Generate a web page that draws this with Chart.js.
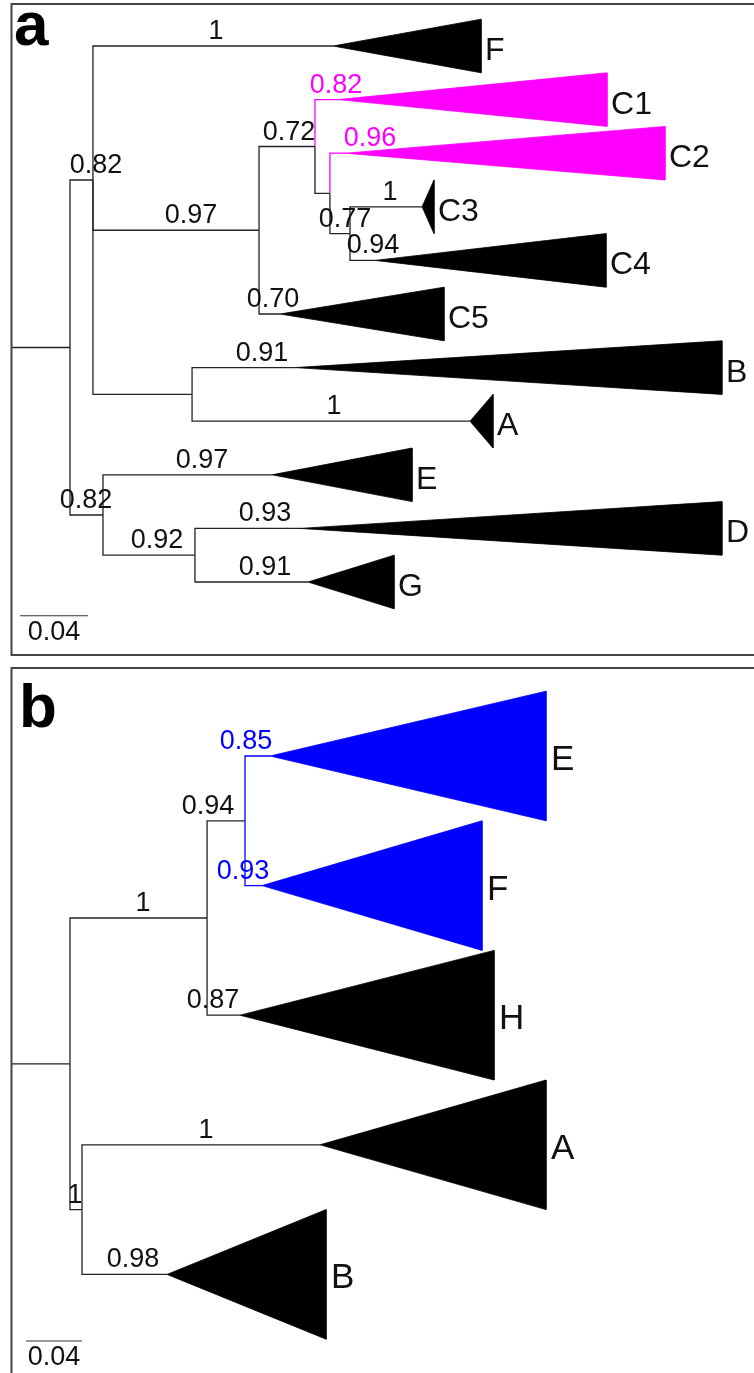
<!DOCTYPE html>
<html>
<head>
<meta charset="utf-8">
<script src="https://cdn.jsdelivr.net/npm/chart.js@4.4.1/dist/chart.umd.min.js"></script>
<style>
  body { margin: 0; background: #fff; }
  .panel { position: absolute; left: 0; width: 754px; }
  #wrapA { top: 0; height: 662px; }
  #wrapB { top: 662px; height: 711px; }
</style>
</head>
<body>
<div class="panel" id="wrapA"><canvas id="treeA" width="754" height="662"></canvas></div>
<div class="panel" id="wrapB"><canvas id="treeB" width="754" height="711"></canvas></div>
<script>
// ---- panel a : collapsed clades (row = order from top), x = subst./site from root
const cladesA = ['F', 'C1', 'C2', 'C3', 'C4', 'C5', 'B', 'A', 'E', 'D', 'G'];
const cladeApexA = [0.1547, 0.1576, 0.1618, 0.2071, 0.1794, 0.1235, 0.1324, 0.2353, 0.1188, 0.1353, 0.1400];
const cladeTipA = [0.2418, 0.3159, 0.3500, 0.2141, 0.3153, 0.2200, 0.3835, 0.2488, 0.2012, 0.3835, 0.1906];
const cladeSupportA = ['1', '0.82', '0.96', '1', '0.94', '0.70', '0.91', '1', '0.97', '0.93', '0.91'];
const cladeParentA = ['n1', 'n3', 'n4', 'n5', 'n5', 'n2', 'n8', 'n8', 'n6', 'n7', 'n7'];
// internal nodes
const nodeIdsA = ['root', 'n1', 'n2', 'n3', 'n4', 'n5', 'n8', 'n6', 'n7'];
const nodeParentA = [null, 'root', 'n1', 'n2', 'n3', 'n4', 'n1', 'root', 'n6'];
const nodeXA = [0, 0.0135, 0.1112, 0.1441, 0.1529, 0.1647, 0.0718, 0.0194, 0.0735];
const nodeRowA = [5.625, 2.5, 3.4375, 1.875, 2.75, 3.5, 6.5, 8.75, 9.5];
const nodeSupportA = ['', '0.82', '0.97', '0.72', '', '0.77', '', '0.82', '0.92'];
const highlightA = ['C1', 'C2'];

// ---- panel b
const cladesB = ['E', 'F', 'H', 'A', 'B'];
const cladeApexB = [0.1429, 0.1371, 0.1214, 0.1786, 0.0693];
const cladeTipB = [0.3400, 0.2943, 0.3029, 0.3400, 0.1829];
const cladeSupportB = ['0.85', '0.93', '0.87', '1', '0.98'];
const cladeParentB = ['m2', 'm2', 'm1', 'm3', 'm3'];
const nodeIdsB = ['root', 'm1', 'm2', 'm3'];
const nodeParentB = [null, 'root', 'm1', 'root'];
const nodeXB = [0, 0.0979, 0.125, 0.00857];
const nodeRowB = [2.375, 1.25, 0.5, 3.5];
const nodeSupportB = ['', '1', '0.94', '1'];
const highlightB = ['E', 'F'];

const scaleBarLen = 0.04;

// label placement (x centre of support values, in tree units)
const supportPosA = {
  F: 0.0859, C1: 0.1565, C2: 0.1765, C3: 0.1882, C4: 0.1782, C5: 0.1194,
  B: 0.1129, A: 0.1553, E: 0.0776, D: 0.1147, G: 0.1147,
  n1: 0.0153, n2: 0.0712, n3: 0.1288, n5: 0.1618, n6: 0.0094, n7: 0.0512
};
const supportPosB = {
  E: 0.1257, F: 0.1236, H: 0.1021, A: 0.0971, B: 0.045,
  m1: 0.0521, m2: 0.0986, m3: 0.0036
};

const panelA = {
  canvas: 'treeA', letter: 'a', hiColor: '#ff00ff',
  clades: cladesA, apex: cladeApexA, tip: cladeTipA, support: cladeSupportA, cladeParent: cladeParentA,
  ids: nodeIdsA, parent: nodeParentA, nx: nodeXA, nrow: nodeRowA, nsupport: nodeSupportA,
  highlight: highlightA, labelPos: supportPosA,
  xMin: -70 / 1700, xMax: 684 / 1700, yMin: -46 / 53.6, yMax: 616 / 53.6,
  rootStem: -0.0341, barX: -0.0294, barRow: 10.63,
  frame: { left: 11.5, top: 4, bottom: 655 }, letterPos: [14, 45],
  cladeFont: 32, cladeDx: 4
};
const panelB = {
  canvas: 'treeB', letter: 'b', hiColor: '#0000ff',
  clades: cladesB, apex: cladeApexB, tip: cladeTipB, support: cladeSupportB, cladeParent: cladeParentB,
  ids: nodeIdsB, parent: nodeParentB, nx: nodeXB, nrow: nodeRowB, nsupport: nodeSupportB,
  highlight: highlightB, labelPos: supportPosB,
  xMin: -70 / 1400, xMax: 684 / 1400, yMin: -94 / 129.6, yMax: 617 / 129.6,
  rootStem: -0.0414, barX: -0.0314, barRow: 4.514,
  frame: { left: 11.5, top: 6, bottom: null }, letterPos: [19, 65],
  cladeFont: 35, cladeDx: 5
};

const lineColor = '#222';

function seg(points, color, width) {
  return {
    data: points, showLine: true, borderColor: color, borderWidth: width,
    pointRadius: 0, pointHoverRadius: 0, fill: false
  };
}

function buildDatasets(p) {
  const ds = [];
  const nodeXY = id => {
    const i = p.ids.indexOf(id);
    return { x: p.nx[i], y: p.nrow[i] };
  };
  // root stem
  const r = nodeXY('root');
  ds.push(seg([{ x: p.rootStem, y: r.y }, { x: r.x, y: r.y }], lineColor, 1.3));
  // internal branches (elbow per child)
  p.ids.forEach((id, i) => {
    if (!p.parent[i]) return;
    const par = nodeXY(p.parent[i]);
    ds.push(seg([{ x: par.x, y: par.y }, { x: par.x, y: p.nrow[i] }, { x: p.nx[i], y: p.nrow[i] }], lineColor, 1.3));
  });
  // clade branches + triangles
  p.clades.forEach((name, row) => {
    const col = p.highlight.includes(name) ? p.hiColor : lineColor;
    const fillCol = p.highlight.includes(name) ? p.hiColor : '#000';
    const par = nodeXY(p.cladeParent[row]);
    ds.push(seg([{ x: par.x, y: par.y }, { x: par.x, y: row }, { x: p.apex[row], y: row }], col, 1.3));
    ds.push({
      data: [
        { x: p.apex[row], y: row },
        { x: p.tip[row], y: row - 0.5 },
        { x: p.tip[row], y: row + 0.5 },
        { x: p.apex[row], y: row }
      ],
      showLine: true, fill: 'shape', backgroundColor: fillCol, borderColor: fillCol,
      borderWidth: 0.8, pointRadius: 0, pointHoverRadius: 0
    });
  });
  // scale bar
  ds.push(seg([{ x: p.barX, y: p.barRow }, { x: p.barX + scaleBarLen, y: p.barRow }], '#333', 1.2));
  return ds;
}

function textPlugin(p) {
  return {
    id: 'treeText',
    afterDatasetsDraw(chart) {
      const { ctx, scales: { x, y } } = chart;
      ctx.save();
      // frame
      ctx.strokeStyle = '#444';
      ctx.lineWidth = 2;
      ctx.beginPath();
      ctx.moveTo(chart.width + 5, p.frame.top);
      ctx.lineTo(p.frame.left, p.frame.top);
      if (p.frame.bottom !== null) {
        ctx.lineTo(p.frame.left, p.frame.bottom);
        ctx.lineTo(chart.width + 5, p.frame.bottom);
      } else {
        ctx.lineTo(p.frame.left, chart.height + 5);
      }
      ctx.stroke();

      // panel letter
      ctx.fillStyle = '#000';
      ctx.font = 'bold 62px "Liberation Sans", Arial, sans-serif';
      ctx.textAlign = 'left';
      ctx.textBaseline = 'alphabetic';
      ctx.fillText(p.letter, p.letterPos[0], p.letterPos[1]);

      // support values
      ctx.font = '27px "Liberation Sans", Arial, sans-serif';
      ctx.textAlign = 'center';
      p.clades.forEach((name, row) => {
        ctx.fillStyle = p.highlight.includes(name) ? p.hiColor : '#111';
        ctx.fillText(p.support[row], x.getPixelForValue(p.labelPos[name]), y.getPixelForValue(row) - 7);
      });
      ctx.fillStyle = '#111';
      p.ids.forEach((id, i) => {
        if (!p.nsupport[i]) return;
        ctx.fillText(p.nsupport[i], x.getPixelForValue(p.labelPos[id]), y.getPixelForValue(p.nrow[i]) - 7);
      });

      // clade names
      ctx.font = p.cladeFont + 'px "Liberation Sans", Arial, sans-serif';
      ctx.textAlign = 'left';
      ctx.fillStyle = '#111';
      p.clades.forEach((name, row) => {
        ctx.fillText(name, x.getPixelForValue(p.tip[row]) + p.cladeDx, y.getPixelForValue(row) + 14);
      });

      // scale bar label
      ctx.font = '27px "Liberation Sans", Arial, sans-serif';
      ctx.textAlign = 'center';
      ctx.fillText(String(scaleBarLen), x.getPixelForValue(p.barX + scaleBarLen / 2), y.getPixelForValue(p.barRow) + 24);
      ctx.restore();
    }
  };
}

function drawTree(p) {
  const ctx = document.getElementById(p.canvas).getContext('2d');
  return new Chart(ctx, {
    type: 'scatter',
    data: { datasets: buildDatasets(p) },
    options: {
      responsive: false,
      animation: false,
      layout: { padding: 0 },
      plugins: { legend: { display: false }, tooltip: { enabled: false } },
      events: [],
      scales: {
        x: { type: 'linear', min: p.xMin, max: p.xMax, display: false },
        y: { type: 'linear', min: p.yMin, max: p.yMax, reverse: true, display: false }
      }
    },
    plugins: [textPlugin(p)]
  });
}

drawTree(panelA);
drawTree(panelB);
</script>
</body>
</html>
